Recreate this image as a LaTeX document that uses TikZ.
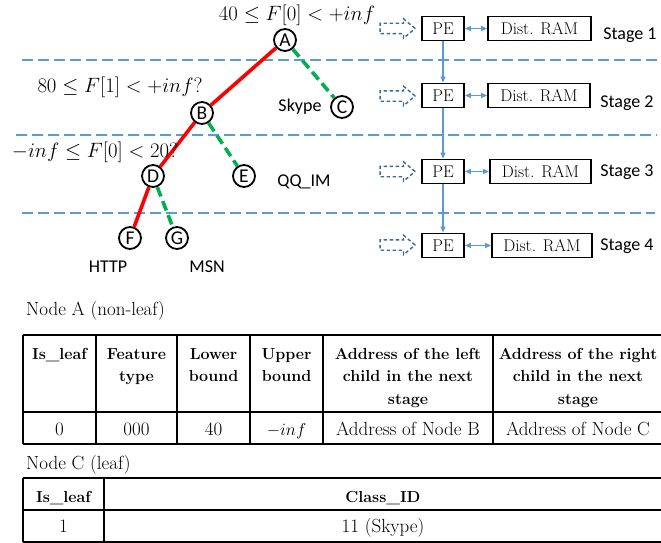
\documentclass[tikz,border=0pt]{standalone}
\usepackage{fontspec}
\usepackage{tikz}
\usetikzlibrary{arrows.meta,shapes.arrows}
\newfontfamily\calibri{Carlito}
\definecolor{sepblue}{HTML}{5B9BD5}
\definecolor{inblue}{HTML}{3A6A96}
\definecolor{hitred}{HTML}{FF0000}
\definecolor{missgreen}{HTML}{00B050}

\begin{document}
\begin{tikzpicture}[x=1pt,y=-1pt,>={Triangle[length=6pt,width=5pt]},
  tnode/.style={circle,draw,line width=1.8pt,minimum size=22pt,inner sep=0pt,
    font=\calibri\fontsize{19.5}{19.5}\selectfont},
  hit/.style={hitred,line width=3.6pt},
  miss/.style={missgreen,line width=3.6pt,dash pattern=on 10pt off 5pt},
  sep/.style={sepblue,line width=1.8pt,dash pattern=on 11pt off 5pt},
  cond/.style={font=\fontsize{20}{20}\selectfont},
  lbl/.style={font=\calibri\fontsize{18}{18}\selectfont},
  pebox/.style={draw,line width=1.8pt,minimum height=24pt,inner sep=0pt,
    font=\fontsize{17}{17}\selectfont},
  flow/.style={->,sepblue,line width=1.2pt},
  inarrow/.style={single arrow,draw=inblue,line width=1.4pt,
    dash pattern=on 3.5pt off 2.5pt,minimum height=35pt,inner sep=4.5pt,
    single arrow head extend=4.5pt,single arrow tip angle=80},
  grid/.style={line width=1.5pt},
  hd/.style={anchor=north,align=center,inner sep=0pt,
    font=\bfseries\fontsize{16}{22.5}\selectfont},
  cell/.style={anchor=base,inner sep=0pt,font=\fontsize{19}{19}\selectfont}]
\useasboundingbox (0,0) rectangle (661,543);
\fill[white] (0,0) rectangle (661,543);

% stage separators
\draw[sep] (22,60) -- (661,60);
\draw[sep] (16,135) -- (657,135);
\draw[sep] (22,213) -- (655,213);

% tree
\node[tnode] (A) at (285,40) {A};
\node[tnode] (B) at (202,113) {B};
\node[tnode] (C) at (342,107) {C};
\node[tnode] (D) at (153,176) {D};
\node[tnode] (E) at (244,176) {E};
\node[tnode] (F) at (130,238) {F};
\node[tnode] (G) at (177,238) {G};
\draw[hit] (A) -- (B);
\draw[miss] (A) -- (C);
\draw[hit] (B) -- (D);
\draw[miss] (B) -- (E);
\draw[hit] (D) -- (F);
\draw[miss] (D) -- (G);

\node[cond] (cA) at (297,15) {$40\le F[0]<+inf$};
\node[cond] (cB) at (120,87) {$80\le F[1]<+inf?$};
\node[cond] (cD) at (95,152) {$-inf\le F[0]<20?$};
\node[lbl] (skype) at (300,107) {Skype};
\node[lbl] (qq) at (304,182) {QQ\_IM};
\node[lbl] (http) at (108,267) {HTTP};
\node[lbl] (msn) at (207,267) {MSN};

% pipeline
\node[pebox,minimum width=42pt] (pe1) at (443,28.5) {PE};
\node[pebox,minimum width=42pt] (pe2) at (443,95.5) {PE};
\node[pebox,minimum width=42pt] (pe3) at (443,171.5) {PE};
\node[pebox,minimum width=42pt] (pe4) at (443,245.5) {PE};
\node[pebox,minimum width=103pt] (ram1) at (539.5,28.5) {Dist. RAM};
\node[pebox,minimum width=102pt] (ram2) at (539,95.5) {Dist. RAM};
\node[pebox,minimum width=101pt] (ram3) at (540.5,171.5) {Dist. RAM};
\node[pebox,minimum width=100pt] (ram4) at (542,245.5) {Dist. RAM};
\node[lbl] (st1) at (630,35) {Stage 1};
\node[lbl] (st2) at (627,103) {Stage 2};
\node[lbl] (st3) at (627,172) {Stage 3};
\node[lbl] (st4) at (627,246) {Stage 4};
\node[inarrow] (in1) at (394.5,28.5) {};
\node[inarrow] (in2) at (394.5,96) {};
\node[inarrow] (in3) at (394.5,171.5) {};
\node[inarrow] (in4) at (394.5,245) {};
\draw[flow] (pe1) -- (pe2);
\draw[flow] (pe2) -- (pe3);
\draw[flow] (pe3) -- (pe4);
\foreach \i in {1,...,4}
  \draw[flow,<->] (pe\i) -- (ram\i);

% node A entry
\node[cell,anchor=base west] (tA) at (26,315) {Node A (non-leaf)};
\foreach \y in {335,412,444}
  \draw[grid] (23,\y) -- (661,\y);
\foreach \x in {23,96,177,250,323,493}
  \draw[grid] (\x,335) -- (\x,444);
\node[hd] (h1) at (59.5,348) {Is\_leaf};
\node[hd] (h2) at (136.5,348) {Feature\\type};
\node[hd] (h3) at (213.5,348) {Lower\\bound};
\node[hd] (h4) at (286.5,348) {Upper\\bound};
\node[hd] (h5) at (408,348) {Address of the left\\child in the next\\stage};
\node[hd] (h6) at (578,348) {Address of the right\\child in the next\\stage};
\node[cell] (v1) at (59.5,435) {0};
\node[cell] (v2) at (136.5,435) {000};
\node[cell] (v3) at (213.5,435) {40};
\node[cell] (v4) at (286.5,435) {$-inf$};
\node[cell] (v5) at (408,435) {Address of Node B};
\node[cell] (v6) at (578,435) {Address of Node C};

% node C entry
\node[cell,anchor=base west] (tC) at (26,469) {Node C (leaf)};
\foreach \y in {478,510,542}
  \draw[grid] (23,\y) -- (661,\y);
\foreach \x in {23,104}
  \draw[grid] (\x,478) -- (\x,542);
\node[hd,anchor=base] (k1) at (63.5,502) {Is\_leaf};
\node[hd,anchor=base] (k2) at (383,502) {Class\_ID};
\node[cell] (w1) at (63.5,532) {1};
\node[cell] (w2) at (383,532) {11 (Skype)};
\end{tikzpicture}
\end{document}
